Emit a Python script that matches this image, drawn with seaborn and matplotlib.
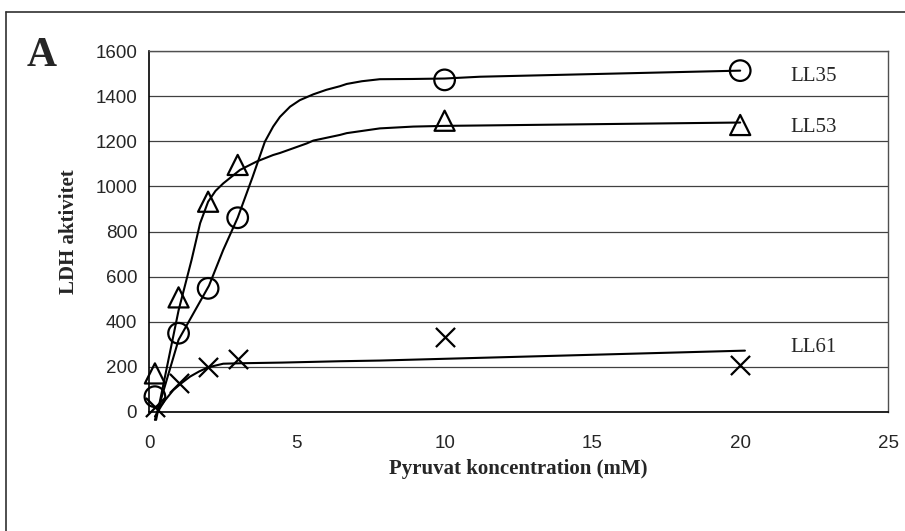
import numpy as np
import pandas as pd
import matplotlib
matplotlib.use('Agg')
import matplotlib.pyplot as plt
import seaborn as sns

# Pyruvat koncentration (mM) and measured LDH aktivitet
konc = [0.2, 1, 2, 3, 10, 20]
ll35 = [68, 349, 548, 861, 1472, 1513]
ll53 = [171, 508, 932, 1095, 1291, 1272]
ll61 = [24, 130, 198, 233, 331, 208]

# fitted curves
ll35_kx = [0.2, 1.0, 2.03, 2.51, 3.0, 3.5, 3.92, 4.2, 4.43, 4.77, 5.1, 5.56, 6.0, 6.46, 6.69, 7.2, 7.81, 8.93, 10.0, 11.2, 20.0]
ll35_ky = [-35, 320, 560, 718, 861, 1040, 1198, 1265, 1308, 1353, 1382, 1408, 1428, 1444, 1454, 1466, 1475, 1476, 1478, 1486, 1513]
ll53_kx = [0.24, 1.0, 1.44, 1.73, 2.0, 2.25, 2.51, 3.08, 3.64, 4.2, 4.43, 5.33, 5.56, 6.46, 6.69, 7.81, 8.94, 9.95, 20.0]
ll53_ky = [-35, 450, 674, 837, 932, 980, 1013, 1073, 1110, 1139, 1148, 1190, 1203, 1228, 1236, 1257, 1265, 1268, 1283]
ll61_kx = [0.2, 0.5, 0.82, 1.1, 1.39, 1.7, 2.0, 2.51, 3.08, 4.5, 6.46, 7.81, 20.16]
ll61_ky = [-20, 45, 97, 128, 157, 180, 198, 214, 216, 219, 225, 228, 272]

labels = ['LL35', 'LL53', 'LL61']
label_y = [1489, 1263, 284]

sns.set_style('white')
plt.rcParams['font.family'] = ['Liberation Sans', 'DejaVu Sans']

fig = plt.figure(figsize=(9.05, 5.31), dpi=100)
ax = fig.add_axes([149/905, 1 - 412/531, (888 - 149)/905, (412 - 51)/531])

for kx, ky in [(ll35_kx, ll35_ky), (ll53_kx, ll53_ky), (ll61_kx, ll61_ky)]:
    d = pd.DataFrame({'x': kx, 'y': ky})
    sns.lineplot(data=d, x='x', y='y', ax=ax, color='black', linewidth=1.5,
                 sort=False, estimator=None, zorder=3, clip_on=False)

sns.scatterplot(x=konc, y=ll35, ax=ax, marker='o', s=220, facecolor='none',
                edgecolor='black', linewidth=1.6, zorder=4, clip_on=False)
sns.scatterplot(x=konc, y=ll53, ax=ax, marker='^', s=210, facecolor='none',
                edgecolor='black', linewidth=1.6, zorder=4, clip_on=False)
sns.scatterplot(x=konc, y=ll61, ax=ax, marker='x', s=190, color='black',
                linewidth=1.6, zorder=4, clip_on=False)

ax.set_xlim(0, 25)
ax.set_ylim(0, 1600)
ax.set_xticks([0, 5, 10, 15, 20, 25])
ax.set_yticks(range(0, 1601, 200))
ax.yaxis.grid(True, color='#404040', linewidth=0.9)
ax.set_axisbelow(True)
ax.tick_params(axis='both', direction='out', length=4.5, width=1, color='black',
               labelsize=13.5, pad=4)
ax.tick_params(axis='x', pad=12)
for s in ['left', 'bottom']:
    ax.spines[s].set_color('black')
    ax.spines[s].set_linewidth(1.2)
for s in ['top', 'right']:
    ax.spines[s].set_color('#505050')
    ax.spines[s].set_linewidth(1.0)

serif = ['Liberation Serif', 'DejaVu Serif']
ax.set_xlabel('Pyruvat koncentration (mM)', family=serif, fontweight='bold',
              fontsize=15, labelpad=5)
ax.set_ylabel('LDH aktivitet', family=serif, fontweight='bold', fontsize=15,
              labelpad=12)

for lab, ly in zip(labels, label_y):
    ax.text(21.7, ly, lab, family=serif, fontsize=15, va='center', ha='left')

fig.text(42/905, 1 - 56/531, 'A', family=serif, fontweight='bold', fontsize=30,
         ha='center', va='center')

# outer frame (top and left edges are visible)
fig.add_artist(plt.Line2D([6/905, 1], [1 - 12/531, 1 - 12/531], color='#303030',
                          linewidth=1.2, transform=fig.transFigure))
fig.add_artist(plt.Line2D([6/905, 6/905], [0, 1 - 12/531], color='#303030',
                          linewidth=1.2, transform=fig.transFigure))

fig.savefig('out.png', dpi=100)
